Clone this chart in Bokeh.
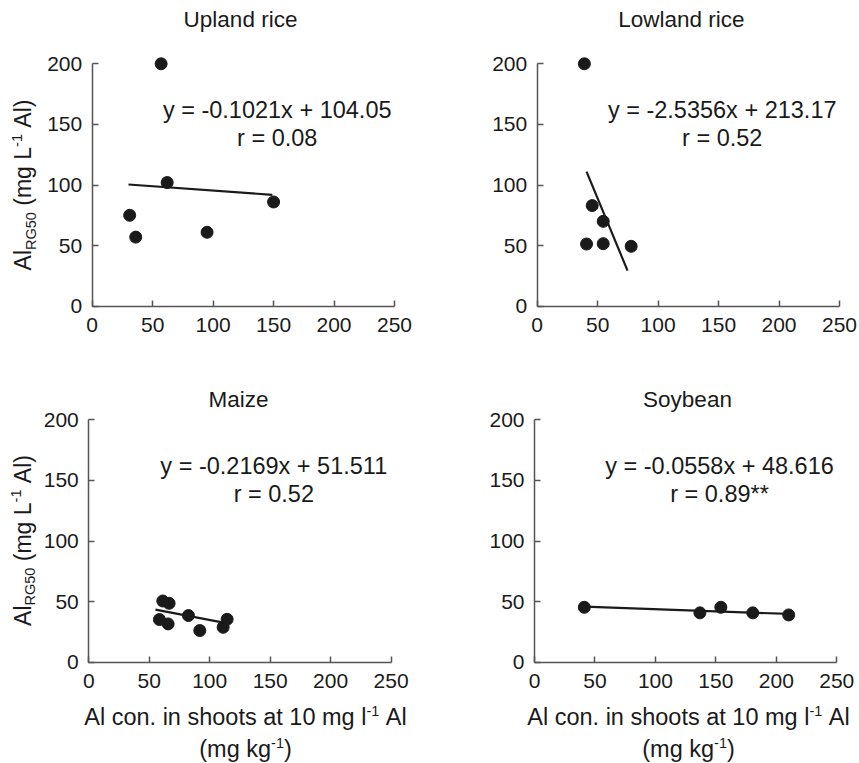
import math
from bokeh.plotting import figure
from bokeh.models import Range1d, FixedTicker, Label
from bokeh.layouts import column, row
from bokeh.embed import file_html
from bokeh.resources import INLINE

# ---------------- data ----------------
titles = ["Upland rice", "Lowland  rice", "Maize", "Soybean"]
x_ticks = [0, 50, 100, 150, 200, 250]
y_ticks = [0, 50, 100, 150, 200]

upland_x = [57, 62, 31, 36, 95, 150]
upland_y = [200, 102, 75, 57, 61, 86]
lowland_x = [39, 45.5, 54.6, 40.8, 54.6, 77.7]
lowland_y = [200, 83, 70, 51.3, 51.6, 49.4]
maize_x = [61.2, 66.4, 58.4, 65.6, 82.4, 91.8, 111.1, 114.4]
maize_y = [50.5, 48.6, 35.2, 31.6, 38.5, 26.1, 28.8, 35.4]
soy_x = [41.2, 136.8, 154.1, 180.5, 210.2]
soy_y = [45.3, 40.7, 45.3, 40.7, 39.0]

# fitted lines as drawn (end points)
upland_fit_x = [30, 149]
upland_fit_y = [100.4, 91.9]
lowland_fit_x = [40.8, 74.7]
lowland_fit_y = [111.1, 29.4]
maize_fit_x = [55.1, 112.5]
maize_fit_y = [43.4, 32.4]
soy_fit_x = [41.2, 210.2]
soy_fit_y = [45.9, 39.8]

equations = ["y = -0.1021x + 104.05", "y = -2.5356x + 213.17",
             "y = -0.2169x + 51.511", "y = -0.0558x + 48.616"]
r_texts = ["r = 0.08", "r = 0.52", "r = 0.52", "r = 0.89**"]

# ---------------- style ----------------
FONT = "Liberation Sans"
INK = "#1a1a1a"
AXIS = "#555555"
TICK_FS = 21
EQ_FS = 23.5
TITLE_FS = 22.5
YLAB_FS = 23
XLAB_FS = 23.5
SUB_FS = 14.5
SX = 302.3 / 250.0   # px per x unit
SY = 242.4 / 200.0   # px per y unit

W = {' ': 278, '(': 333, ')': 333, '-': 333, '.': 278, 'A': 667, 'G': 778,
     'L': 556, 'R': 722, 'a': 556, 'c': 500, 'd': 556, 'e': 556, 'g': 556,
     'h': 556, 'i': 222, 'k': 500, 'l': 222, 'm': 833, 'n': 556, 'o': 556,
     'p': 556, 'r': 333, 's': 500, 't': 278, 'x': 500, 'y': 500}


def tw(s, fs):
    return sum(W.get(c, 556) for c in s) / 1000.0 * fs


def make_panel(idx, xs, ys, fx, fy, width, height, ox, oy,
               title_pos, ylab_pos, xlab_pos):
    # ox, oy: pixel position (from figure's top-left) of the data origin
    def dx(px):
        return (px - ox) / SX

    def dy(py):
        return (oy - py) / SY

    p = figure(width=width, height=height,
               x_range=Range1d(dx(0), dx(width)),
               y_range=Range1d(dy(height), dy(0)),
               output_backend="svg", toolbar_location=None,
               min_border_left=0, min_border_right=0,
               min_border_top=0, min_border_bottom=0,
               background_fill_color="white", border_fill_color="white")
    p.outline_line_color = None
    p.grid.visible = False
    for ax, ticks in ((p.xaxis, x_ticks), (p.yaxis, y_ticks)):
        ax.ticker = FixedTicker(ticks=ticks)
        ax.fixed_location = 0
        ax.major_tick_in = 6
        ax.major_tick_out = 0
        ax.minor_tick_line_color = None
        ax.axis_line_color = AXIS
        ax.axis_line_width = 1.5
        ax.major_tick_line_color = AXIS
        ax.major_tick_line_width = 1.5
        ax.major_label_text_font = FONT
        ax.major_label_text_font_size = f"{TICK_FS}px"
        ax.major_label_text_color = INK
    p.xaxis.bounds = (0, 250)
    p.yaxis.bounds = (0, 200)
    p.xaxis.major_label_standoff = 12
    p.yaxis.major_label_standoff = 10

    p.line(fx, fy, line_color=INK, line_width=2.2)
    p.scatter(xs, ys, size=12, fill_color=INK, line_color=INK)

    def lab(px, py, text, fs, **kw):
        p.add_layout(Label(x=dx(px), y=dy(py), text=text, text_font=FONT,
                           text_font_size=f"{fs}px", text_color=INK,
                           text_font_style="normal", **kw))

    p.add_layout(Label(x=153, y=162, text=equations[idx], text_font=FONT,
                       text_font_size=f"{EQ_FS}px", text_color=INK,
                       text_align="center", text_baseline="middle"))
    p.add_layout(Label(x=153, y=138.5, text=r_texts[idx], text_font=FONT,
                       text_font_size=f"{EQ_FS}px", text_color=INK,
                       text_align="center", text_baseline="middle"))

    tx, ty = title_pos
    lab(tx, ty, titles[idx], TITLE_FS, text_align="center",
        text_baseline="middle")

    if ylab_pos:
        cx, cy = ylab_pos
        # (text, font size, lateral shift, gap before)
        pieces = [("Al", YLAB_FS, 0, 0), ("RG50", SUB_FS, 7.5, 0),
                  ("(mg L", YLAB_FS, 0, tw(" ", YLAB_FS)),
                  ("-1", SUB_FS, -6.5, 0),
                  ("Al)", YLAB_FS, 0, tw(" ", YLAB_FS))]
        total = sum(tw(s, fs) + g for s, fs, _, g in pieces)
        cum = cy + total / 2
        for s, fs, off, g in pieces:
            cum -= g
            lab(cx + off, cum, s, fs, angle=math.pi / 2,
                text_align="left", text_baseline="middle")
            cum -= tw(s, fs)

    if xlab_pos:
        cx, c1, c2 = xlab_pos
        lines = [
            ([("Al con. in shoots at 10 mg l", XLAB_FS, 0, 0),
              ("-1", SUB_FS, -6, 0),
              ("Al", XLAB_FS, 0, tw(" ", XLAB_FS))], c1),
            ([("(mg kg", XLAB_FS, 0, 0), ("-1", SUB_FS, -6, 0),
              (")", XLAB_FS, 0, 0)], c2),
        ]
        for pieces, mid in lines:
            total = sum(tw(s, fs) + g for s, fs, _, g in pieces)
            cum = cx - total / 2
            for s, fs, off, g in pieces:
                cum += g
                lab(cum, mid + off, s, fs, text_align="left",
                    text_baseline="middle")
                cum += tw(s, fs)
    return p


p1 = make_panel(0, upland_x, upland_y, upland_fit_x, upland_fit_y,
                430, 360, 91.7, 305.7, (240, 19), (22.5, 184.5), None)
p2 = make_panel(1, lowland_x, lowland_y, lowland_fit_x, lowland_fit_y,
                429, 360, 106.7, 305.7, (254, 19), None, None)
p3 = make_panel(2, maize_x, maize_y, maize_fit_x, maize_fit_y,
                430, 403, 88.3, 301.7, (238, 39), (22, 180), (245, 356, 388))
p4 = make_panel(3, soy_x, soy_y, soy_fit_x, soy_fit_y,
                429, 403, 104, 301.7, (257, 39), None, (258, 356, 388))

layout = column(row(p1, p2), row(p3, p4))
open("out.html", "w").write(file_html(layout, INLINE))
